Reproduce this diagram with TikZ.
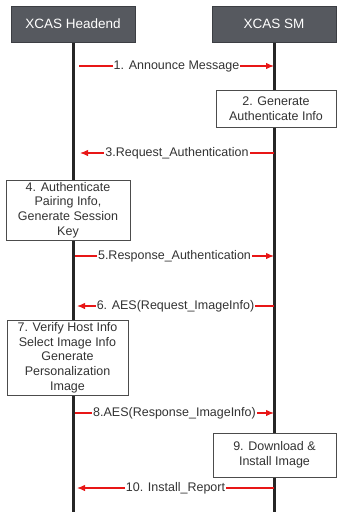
\documentclass[tikz,border=0pt]{standalone}
\usepackage{fontspec}
\setmainfont{Liberation Sans}
\usetikzlibrary{arrows.meta}
\definecolor{headgray}{RGB}{86,89,95}
\definecolor{msgred}{RGB}{232,22,22}

\tikzset{
  head/.style={draw=headgray!70!black,fill=headgray,text=white,inner sep=0pt,
    minimum width=124pt,minimum height=36pt,font=\fontsize{13.5}{16}\selectfont},
  lifeline/.style={line width=3pt,draw=black!85},
  stepbox/.style={draw=black!70,fill=white,align=center,text=black!80,inner sep=0pt,
    font=\fontsize{12.5}{14.7}\selectfont},
  msg/.style={draw=msgred,line width=1.2pt,-{Latex[length=8pt,width=6.5pt]}},
  msglabel/.style={fill=white,inner sep=1pt,text=black!80,font=\fontsize{12.5}{14.7}\selectfont}
}

\begin{document}
\begin{tikzpicture}[x=1pt,y=-1pt]
\useasboundingbox (0,0) rectangle (339,515);

% lifelines
\coordinate (hdend) at (73,512);
\coordinate (smend) at (274,512);
\draw[lifeline] (73,42) -- (hdend);
\draw[lifeline] (274,42) -- (smend);

% heads
\node[head] (hd) at (73,24) {XCAS Headend};
\node[head] (sm) at (274,24) {XCAS SM};

% processing steps
\node[stepbox,minimum width=120pt,minimum height=37pt] (gen) at (276,108.5) {2. Generate\\Authenticate Info};
\node[stepbox,minimum width=124pt,minimum height=60pt] (auth) at (68,210) {4. Authenticate\\Pairing Info,\\Generate Session\\Key};
\node[stepbox,minimum width=121pt,minimum height=75pt] (verify) at (67.5,357.5) {7. Verify Host Info\\Select Image Info\\Generate\\Personalization\\Image};
\node[stepbox,minimum width=123pt,minimum height=44pt] (install) at (274.5,455) {9. Download \&\\Install Image};

% message ends on the lifelines
\coordinate (hd1) at (79,66);   \coordinate (sm1) at (274,66);
\coordinate (hd3) at (80,153);  \coordinate (sm3) at (274,153);
\coordinate (hd5) at (75,256);  \coordinate (sm5) at (274,256);
\coordinate (hd6) at (77,306);  \coordinate (sm6) at (274,306);
\coordinate (hd8) at (75,413);  \coordinate (sm8) at (274,413);
\coordinate (hd10) at (77,488); \coordinate (sm10) at (274,488);

% messages
\draw[msg] (hd1) -- node[msglabel] (m1) {1. Announce Message} (sm1);
\draw[msg] (sm3) -- node[msglabel] (m3) {3.Request\_Authentication} (hd3);
\draw[msg] (hd5) -- node[msglabel] (m5) {5.Response\_Authentication} (sm5);
\draw[msg] (sm6) -- node[msglabel] (m6) {6. AES(Request\_ImageInfo)} (hd6);
\draw[msg] (hd8) -- node[msglabel] (m8) {8.AES(Response\_ImageInfo)} (sm8);
\draw[msg] (sm10) -- node[msglabel] (m10) {10. Install\_Report} (hd10);

\end{tikzpicture}
\end{document}
